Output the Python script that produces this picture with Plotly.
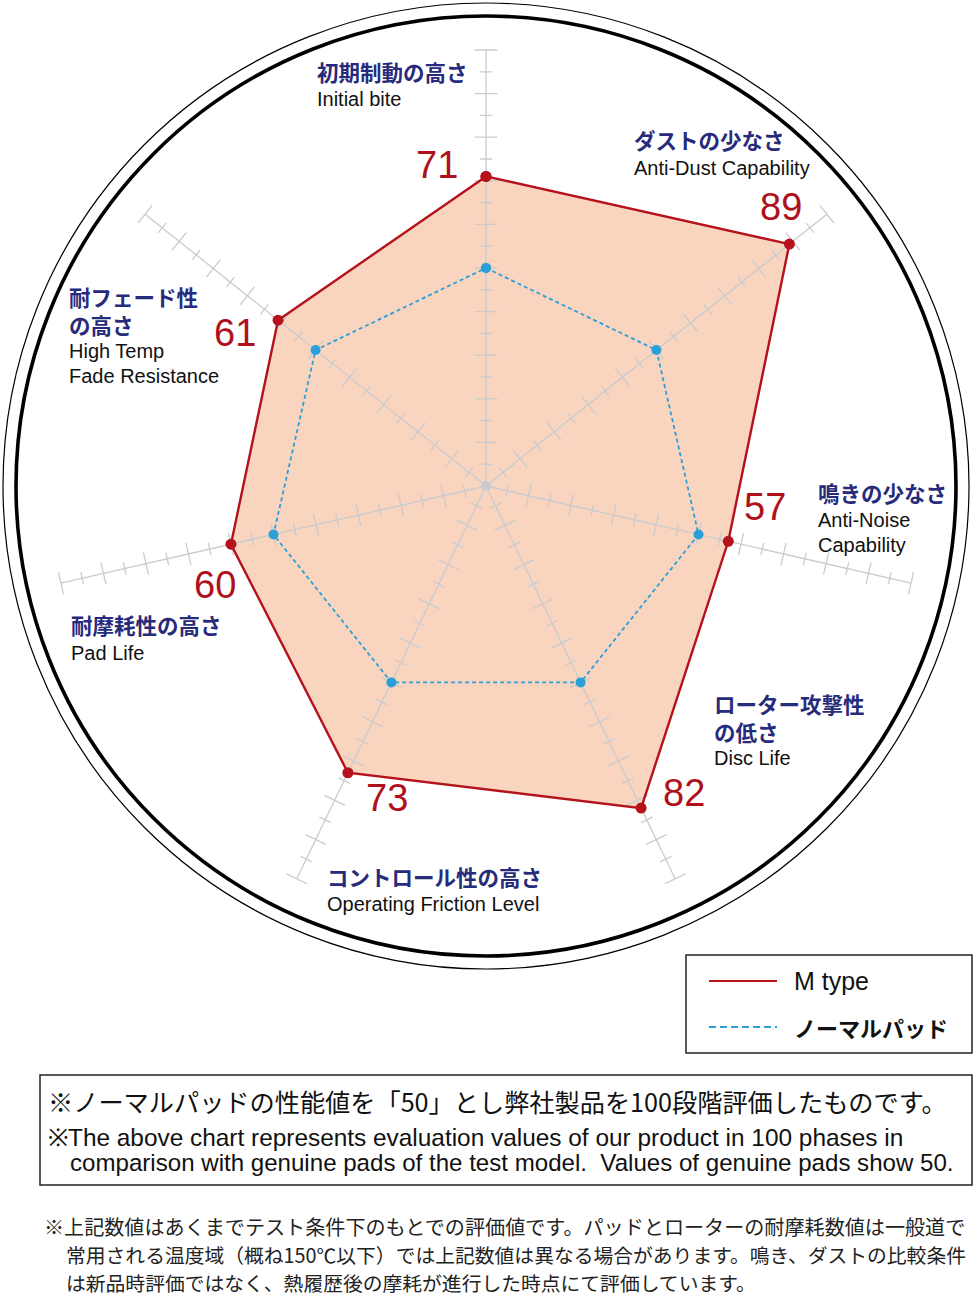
import math
import plotly.graph_objects as go

# ---------------- data ----------------
categories_jp = [["初期制動の高さ"], ["ダストの少なさ"], ["鳴きの少なさ"],
                 ["ローター攻撃性", "の低さ"], ["コントロール性の高さ"],
                 ["耐摩耗性の高さ"], ["耐フェード性", "の高さ"]]
categories_en = [["Initial bite"], ["Anti-Dust Capability"], ["Anti-Noise", "Capability"],
                 ["Disc Life"], ["Operating Friction Level"], ["Pad Life"],
                 ["High Temp", "Fade Resistance"]]
m_type = [71, 89, 57, 82, 73, 60, 61]
normal_pad = [50, 50, 50, 50, 50, 50, 50]
tick_values = [5, 10, 15, 20, 25, 30, 35, 40, 45, 50, 55, 60, 65, 70, 75, 80, 85, 90, 95, 100]
legend_names = ["M type", "ノーマルパッド"]
note_jp = "※ノーマルパッドの性能値を「50」とし弊社製品を100段階評価したものです。"
note_en = ["※The above chart represents evaluation values of our product in 100 phases in",
           "comparison with genuine pads of the test model.  Values of genuine pads show 50."]
footnote = ["※上記数値はあくまでテスト条件下のもとでの評価値です。パッドとローターの耐摩耗数値は一般道で",
            "常用される温度域（概ね150℃以下）では上記数値は異なる場合があります。鳴き、ダストの比較条件",
            "は新品時評価ではなく、熱履歴後の摩耗が進行した時点にて評価しています。"]

# ---------------- layout constants ----------------
W, H = 976, 1297
CX, CY = 486, 486
PX_PER_UNIT = 4.36
RMAX = 102
R_PX = PX_PER_UNIT * RMAX

RED = "#b5121b"
RED_TXT = "#b0101c"
BLUE = "#2b9fd9"
FILL = "#f9d4bf"
GREY = "#c9cbcf"
NAVY = "#272b7b"
JP = "Noto Sans CJK JP"
EN = "Liberation Sans, Arial, sans-serif"

n = len(m_type)
angles = [i * 360.0 / n for i in range(n)]


def px(x):
    return x / W


def py(y):
    return 1 - y / H


def polar_to_px(r, ang):
    a = math.radians(ang)
    return CX + r * PX_PER_UNIT * math.sin(a), CY - r * PX_PER_UNIT * math.cos(a)


fig = go.Figure()

# fill polygon
fig.add_trace(go.Scatterpolar(r=m_type + [m_type[0]], theta=angles + [angles[0]],
                              mode="lines", fill="toself", fillcolor=FILL,
                              line=dict(width=0, color=FILL), hoverinfo="skip",
                              showlegend=False))

# spokes and ticks
sr, st = [], []
for a in angles:
    sr += [0, 100, None]
    st += [a, a, None]
    for v in tick_values:
        half = 2.6 if v % 10 == 0 else 1.45
        re_ = math.hypot(v, half)
        d = math.degrees(math.atan(half / v))
        sr += [re_, re_, None]
        st += [a - d, a + d, None]
fig.add_trace(go.Scatterpolar(r=sr, theta=st, mode="lines",
                              line=dict(color=GREY, width=1.3), hoverinfo="skip",
                              showlegend=False, connectgaps=False))
# centre dot
fig.add_trace(go.Scatterpolar(r=[0], theta=[0], mode="markers",
                              marker=dict(color=GREY, size=10), showlegend=False))

# normal pad
fig.add_trace(go.Scatterpolar(r=normal_pad + [normal_pad[0]], theta=angles + [angles[0]],
                              mode="lines+markers", name=legend_names[1],
                              line=dict(color=BLUE, width=1.8, dash="4px,3px"),
                              marker=dict(color=BLUE, size=10), showlegend=False))
# M type
fig.add_trace(go.Scatterpolar(r=m_type + [m_type[0]], theta=angles + [angles[0]],
                              mode="lines+markers", name=legend_names[0],
                              line=dict(color=RED, width=2.4),
                              marker=dict(color=RED, size=11), showlegend=False))

fig.update_layout(
    width=W, height=H, margin=dict(l=0, r=0, t=0, b=0),
    paper_bgcolor="white", plot_bgcolor="white", showlegend=False,
    polar=dict(
        domain=dict(x=[px(CX - R_PX), px(CX + R_PX)], y=[py(CY + R_PX), py(CY - R_PX)]),
        bgcolor="rgba(0,0,0,0)",
        radialaxis=dict(range=[0, RMAX], visible=False),
        angularaxis=dict(thetaunit="degrees", rotation=90, direction="clockwise",
                         showline=False, showgrid=False, showticklabels=False, ticks=""),
    ),
)

shapes = []
# outer double circle
for r, w in [(470, 3.6), (483, 1.2)]:
    shapes.append(dict(type="circle", xref="paper", yref="paper",
                       x0=px(CX - r), x1=px(CX + r), y0=py(CY + r), y1=py(CY - r),
                       line=dict(color="black", width=w)))
# legend box
shapes.append(dict(type="rect", xref="paper", yref="paper", x0=px(686), x1=px(972),
                   y0=py(1053), y1=py(955), line=dict(color="#222", width=1.5)))
shapes.append(dict(type="line", xref="paper", yref="paper", x0=px(709), x1=px(777),
                   y0=py(981), y1=py(981), line=dict(color=RED, width=2)))
shapes.append(dict(type="line", xref="paper", yref="paper", x0=px(709), x1=px(777),
                   y0=py(1027), y1=py(1027), line=dict(color=BLUE, width=2, dash="7px,4px")))
# note box
shapes.append(dict(type="rect", xref="paper", yref="paper", x0=px(40), x1=px(972),
                   y0=py(1185), y1=py(1075), line=dict(color="#222", width=1.5)))

ann = []


def text(x, y, s, size, color="black", family=EN, weight="normal", anchor="left"):
    ann.append(dict(x=px(x), y=py(y), xref="paper", yref="paper", text=s, showarrow=False,
                    xanchor=anchor, yanchor="middle", align="left",
                    font=dict(size=size, color=color, family=family, weight=weight)))


# value labels around the M type points
value_offsets = [(-49, -11), (-8, -37), (37, -34), (43, -15), (39, 25), (-16, 41), (-43, 13)]
for v, a, (dx, dy) in zip(m_type, angles, value_offsets):
    x, y = polar_to_px(v, a)
    text(x + dx, y + dy, str(v), 38, RED_TXT, EN, anchor="center")

# category labels
label_anchor = [(315, 71), (632, 140), (816, 492), (712, 705), (325, 876), (69, 625), (67, 298)]
for (x, y), jl, el in zip(label_anchor, categories_jp, categories_en):
    last_jp = y + 25 * (len(jl) - 1)
    text(x, (y + last_jp) / 2, "<br>".join(jl), 21.5, NAVY, JP, "bold")
    yy = last_jp + 28
    for i, s in enumerate(el):
        if i:
            yy += 25
        text(x, yy, s, 20, "#111", EN)

# legend labels
text(792, 981, legend_names[0], 25, "#111", EN)
text(792, 1027, legend_names[1], 22, "#111", JP, "bold")

# notes
text(46, 1101, note_jp, 25.2, "#111", JP)
text(46, 1137, note_en[0], 24.4, "#111", EN)
text(68, 1162, note_en[1], 24.1, "#111", EN)
foot_sizes = [20.1, 19.8, 19.8]
for i, s in enumerate(footnote):
    text(42 if i == 0 else 64, 1226 + 28 * i, s, foot_sizes[i], "#222", JP)

fig.update_layout(shapes=shapes, annotations=ann)
fig.write_html("out.html", post_script="document.body.style.margin='0';",
               config={"displayModeBar": False})
